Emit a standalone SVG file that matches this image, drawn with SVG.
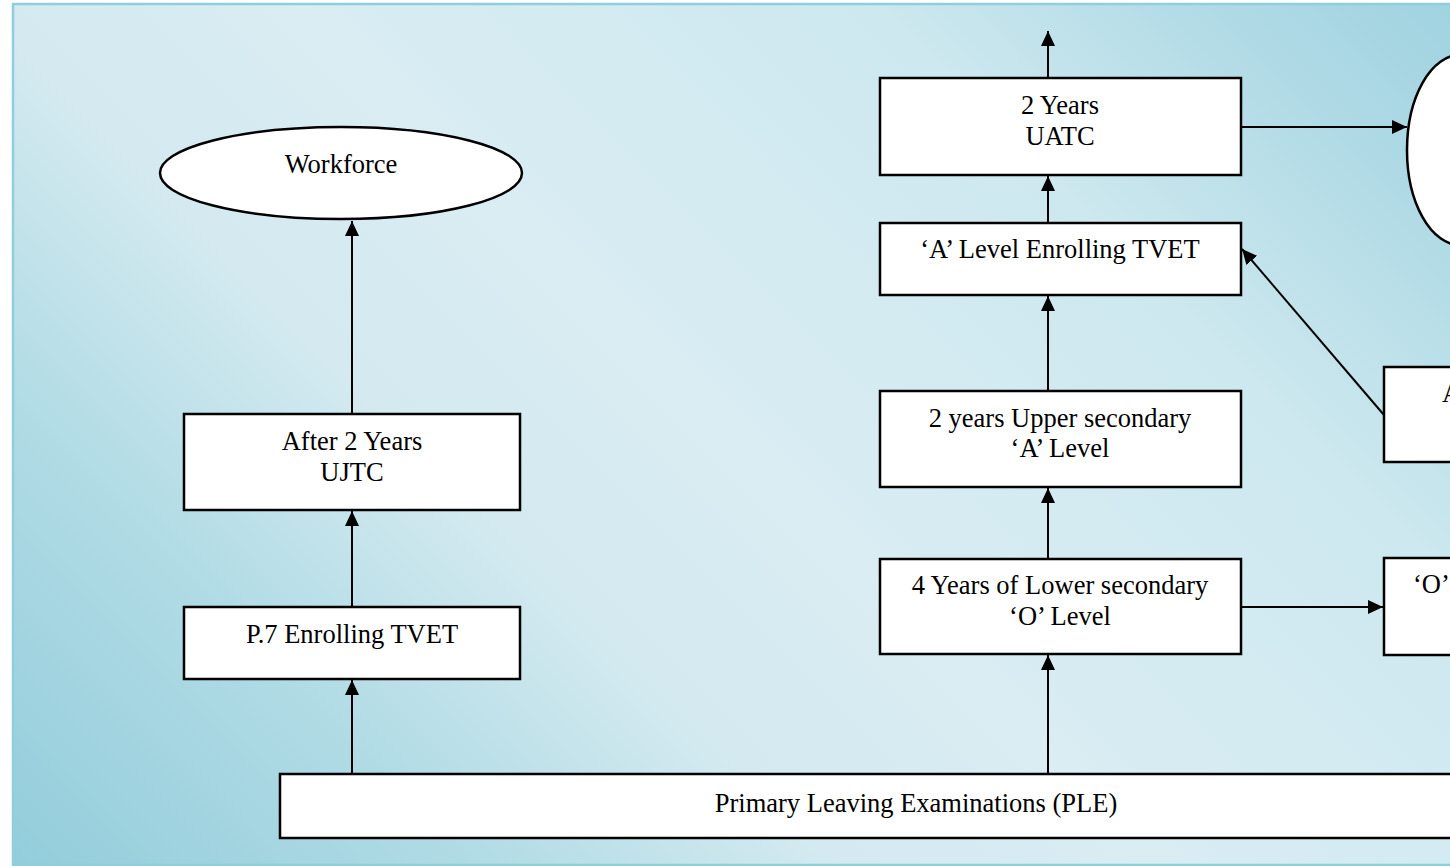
<svg xmlns="http://www.w3.org/2000/svg" width="1450" height="866" viewBox="0 0 1450 866">
<defs>
<linearGradient id="bg" gradientUnits="userSpaceOnUse" x1="13" y1="866" x2="1163" y2="-284">
<stop offset="0" stop-color="#93cddb"/>
<stop offset="0.2" stop-color="#b0dbe5"/>
<stop offset="0.36" stop-color="#d4eaf0"/>
<stop offset="0.5" stop-color="#d9edf3"/>
<stop offset="0.75" stop-color="#cde8ef"/>
<stop offset="0.9" stop-color="#afdae5"/>
<stop offset="1" stop-color="#a0d3e0"/>
</linearGradient>
<marker id="arr" markerUnits="userSpaceOnUse" markerWidth="16" markerHeight="16" viewBox="0 0 16 16" refX="15" refY="8" orient="auto">
<path d="M0,1 L15,8 L0,15 Z" fill="#000"/>
</marker>
<style>
.box{fill:#fff;stroke:#000;stroke-width:2.5}
.t{font-family:"Liberation Serif","Times New Roman",serif;font-size:26.5px;fill:#000;text-anchor:middle}
.ts{font-family:"Liberation Serif","Times New Roman",serif;font-size:26.5px;fill:#000;text-anchor:start}
.c{stroke:#000;stroke-width:2;fill:none;marker-end:url(#arr)}
</style>
</defs>
<rect x="13" y="4" width="1445" height="861" fill="url(#bg)" stroke="#8fcfdd" stroke-width="2.5"/>

<g id="connectors">
<line class="c" x1="1048" y1="78" x2="1048" y2="31"/>
<line class="c" x1="1048" y1="223" x2="1048" y2="176"/>
<line class="c" x1="1048" y1="391" x2="1048" y2="296"/>
<line class="c" x1="1048" y1="559" x2="1048" y2="488"/>
<line class="c" x1="1048" y1="774" x2="1048" y2="655"/>
<line class="c" x1="1241" y1="127" x2="1407" y2="127"/>
<line class="c" x1="1241" y1="607" x2="1383" y2="607"/>
<line class="c" x1="1384" y1="415" x2="1242" y2="249"/>
<line class="c" x1="352" y1="414" x2="352" y2="221"/>
<line class="c" x1="352" y1="607" x2="352" y2="511"/>
<line class="c" x1="352" y1="774" x2="352" y2="680"/>
</g>

<g id="workforce">
<ellipse cx="341" cy="173" rx="181" ry="46" fill="#fff" stroke="#000" stroke-width="2.5"/>
<text class="t" x="341" y="173">Workforce</text>
</g>
<g id="right-ellipse">
<ellipse cx="1460" cy="150" rx="53" ry="95" fill="#fff" stroke="#000" stroke-width="2.5"/>
</g>
<g id="uatc">
<rect class="box" x="880" y="78" width="361" height="97"/>
<text class="t" x="1060" y="114">2 Years</text>
<text class="t" x="1060" y="145">UATC</text>
</g>
<g id="a-level-tvet">
<rect class="box" x="880" y="223" width="361" height="72"/>
<text class="t" x="1060" y="258">‘A’ Level Enrolling TVET</text>
</g>
<g id="upper-secondary">
<rect class="box" x="880" y="391" width="361" height="96"/>
<text class="t" x="1060" y="427">2 years Upper secondary</text>
<text class="t" x="1060" y="457">‘A’ Level</text>
</g>
<g id="lower-secondary">
<rect class="box" x="880" y="559" width="361" height="95"/>
<text class="t" x="1060" y="594">4 Years of Lower secondary</text>
<text class="t" x="1060" y="625">‘O’ Level</text>
</g>
<g id="a-right">
<rect class="box" x="1384" y="367" width="80" height="95"/>
<text class="ts" x="1442" y="402">A</text>
</g>
<g id="o-right">
<rect class="box" x="1384" y="558" width="80" height="97"/>
<text class="ts" x="1413" y="593">‘O’</text>
</g>
<g id="ujtc">
<rect class="box" x="184" y="414" width="336" height="96"/>
<text class="t" x="352" y="450">After 2 Years</text>
<text class="t" x="352" y="481">UJTC</text>
</g>
<g id="p7">
<rect class="box" x="184" y="607" width="336" height="72"/>
<text class="t" x="352" y="643">P.7 Enrolling TVET</text>
</g>
<g id="ple">
<rect class="box" x="280" y="774" width="1272" height="64"/>
<text class="t" x="916" y="812">Primary Leaving Examinations (PLE)</text>
</g>
</svg>
